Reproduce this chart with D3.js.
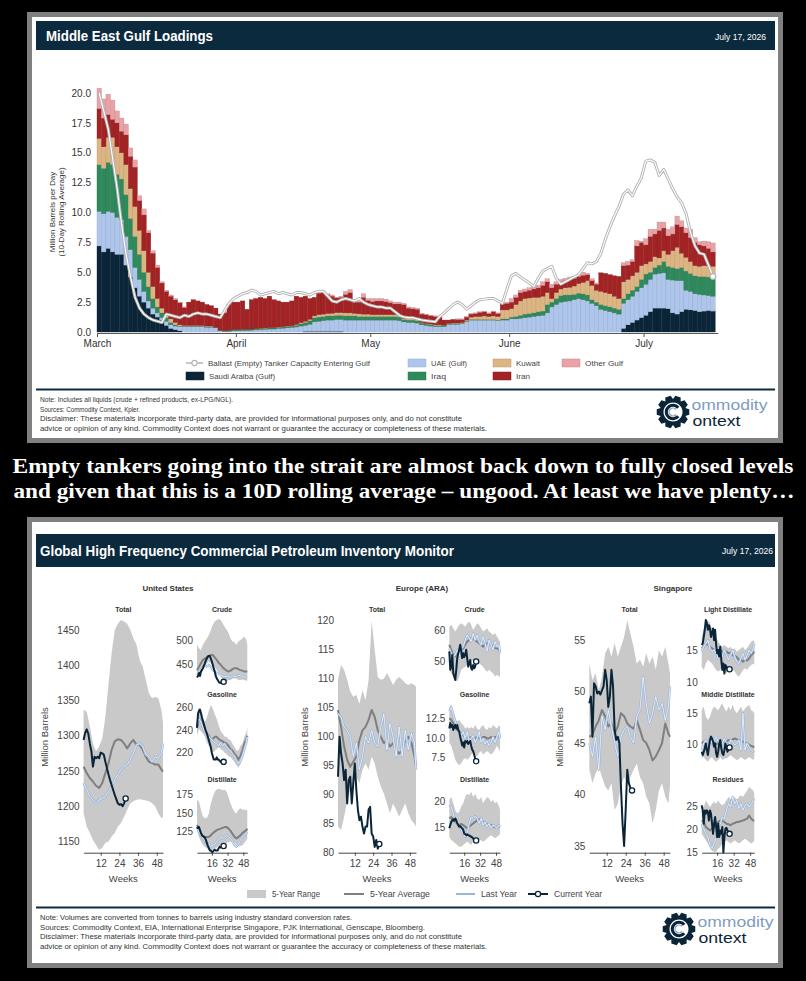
<!DOCTYPE html>
<html>
<head>
<meta charset="utf-8">
<script src="https://cdn.jsdelivr.net/npm/d3@7/dist/d3.min.js"></script>
<style>
  body { margin: 0; background: #000; }
  svg { display: block; }
</style>
</head>
<body>
<svg id="chart" width="806" height="981"></svg>
<script>
// ---------- Middle East Gulf loadings, daily from 1 March (mb/d, 10-day rolling avg)
const saudi = [7.2,6.7,7.0,6.7,6.5,6.5,5.6,4.6,3.7,3.0,
  2.5,2.0,1.5,1.25,1.0,0.55,0.3,0.2,0.1,0,
  0,0,0,0,0,0,0,0,0,0,
  0,0,0,0,0,0,0,0,0,0,
  0,0,0,0,0,0,0.05,0.05,0.05,0.05,
  0.05,0.05,0.05,0.05,0.05,0,0,0,0,0,
  0,0,0,0,0,0,0,0,0,0,
  0,0,0,0,0,0,0,0,0,0,
  0,0,0,0,0,0,0,0,0,0,
  0,0,0,0,0,0,0,0,0,0,
  0,0,0,0,0,0,0,0,0,0,
  0,0,0,0,0,0,0,0.3,0.6,0.8,
  1.0,1.2,1.4,1.7,2.0,2.0,2.0,1.95,1.6,1.5,
  1.7,1.9,1.85,1.8,1.7,1.75,1.8,1.75];
const uae = [2.9,3.2,3.1,3.3,3.1,2.9,2.4,2.3,1.7,1.4,
  0.9,0.6,0.5,0.35,0.2,0.35,0.3,0.3,0.35,0.45,
  0.45,0.45,0.45,0.45,0.4,0.4,0.35,0.1,0.05,0.05,
  0.1,0.1,0.12,0.12,0.15,0.18,0.2,0.22,0.25,0.25,
  0.3,0.32,0.35,0.38,0.42,0.5,0.5,0.6,0.8,0.85,
  0.9,0.95,0.95,1.0,1.0,1.0,1.0,1.0,1.0,1.0,
  1.0,1.0,1.0,1.0,1.0,1.0,1.0,0.95,0.85,0.8,
  0.8,0.75,0.6,0.55,0.5,0.45,0.45,0.45,0.65,0.65,
  0.65,0.7,0.85,1.0,1.0,1.0,1.0,1.0,1.0,0.95,
  1.0,1.0,1.1,1.1,1.15,1.2,1.25,1.3,1.35,1.4,
  1.6,2.1,2.3,2.5,2.55,2.6,2.7,2.8,2.7,2.6,
  2.4,2.2,1.9,1.8,1.7,1.6,1.5,2.1,2.1,2.2,
  2.4,2.5,2.6,2.7,2.85,2.9,2.95,2.45,2.75,2.8,
  2.6,1.6,1.55,1.4,1.45,1.35,1.25,1.25];
const iraq = [3.9,3.8,4.1,4.0,3.6,3.4,3.5,2.6,2.6,2.1,
  1.6,1.2,0.8,0.5,0.4,0.3,0.2,0.1,0.05,0.05,
  0.05,0.05,0.05,0.05,0.05,0.05,0.05,0.05,0.05,0.1,
  0.1,0.1,0.1,0.1,0.1,0.1,0.1,0.1,0.1,0.1,
  0.1,0.1,0.12,0.12,0.15,0.2,0.25,0.3,0.35,0.35,
  0.35,0.35,0.35,0.35,0.35,0.35,0.35,0.35,0.3,0.3,
  0.3,0.3,0.3,0.3,0.3,0.3,0.3,0.3,0.2,0.2,
  0.2,0.2,0.15,0.12,0.12,0.1,0.1,0.08,0.05,0.05,
  0.05,0.05,0.05,0.05,0.05,0.05,0.05,0.05,0.05,0.05,
  0.1,0.1,0.15,0.2,0.25,0.3,0.3,0.3,0.35,0.35,
  0.7,0.4,0.5,0.55,0.55,0.5,0.45,0.45,0.5,0.5,
  0.3,0.3,0.4,0.4,0.4,0.4,0.4,0.4,0.5,0.5,
  0.4,0.7,0.85,0.6,0.55,0.7,0.95,1.1,1.05,1.0,
  1.1,1.6,1.5,1.5,1.5,1.55,1.55,1.6];
const kuwait = [2.2,1.8,2.1,2.3,2.3,2.2,2.5,2.5,2.5,2.0,
  1.8,1.2,1.0,0.7,0.4,0.3,0.3,0.2,0.1,0.05,
  0.05,0.05,0.05,0.05,0.05,0.05,0,0,0,0,
  0,0,0,0,0,0,0.02,0.02,0.02,0.02,
  0.02,0.03,0.03,0.03,0.05,0.08,0.1,0.12,0.15,0.2,
  0.2,0.2,0.22,0.22,0.22,0.25,0.25,0.22,0.22,0.2,
  0.2,0.15,0.15,0.15,0.15,0.15,0.15,0.15,0.1,0.1,
  0.1,0.1,0.05,0.05,0.05,0.05,0.05,0.03,0.03,0.05,
  0.05,0.05,0.1,0.2,0.25,0.25,0.3,0.25,0.3,0.3,
  0.75,0.75,0.7,1.0,1.2,1.3,1.3,1.3,1.2,1.25,
  1.0,0.3,0.5,0.55,0.6,0.65,0.7,0.8,0.95,1.2,
  1.2,1.0,1.1,1.1,1.1,1.0,0.9,1.4,1.2,1.2,
  1.2,1.15,0.85,0.9,0.9,0.6,0.9,1.0,1.4,1.8,
  1.2,1.15,1.0,0.85,0.85,0.9,0.95,0.9];
const iran = [2.5,2.4,1.9,1.5,2.0,1.8,2.5,2.7,3.3,2.5,
  3.0,3.3,2.8,2.6,2.1,1.9,1.9,1.9,1.85,1.5,
  1.95,2.15,2.05,1.95,1.8,1.7,1.6,1.35,1.5,2.15,
  2.3,2.3,2.38,1.68,2.45,2.52,2.58,2.46,2.63,2.33,
  2.18,2.05,2.0,2.07,2.38,2.12,2.1,1.73,1.55,1.8,
  1.8,1.55,1.43,1.23,1.28,1.55,1.7,0.93,0.98,1.4,
  1.15,1.1,1.15,1.15,1.1,1.0,0.9,0.95,1.15,0.9,
  0.85,0.85,0.7,0.73,0.68,0.7,0.65,0.44,0.27,0.3,
  0.3,0.25,0.25,0.25,0.25,0.35,0.35,0.25,0.35,0.25,
  0.5,0.55,0.55,0.6,0.7,0.6,0.65,0.7,0.8,0.9,
  0.9,0.9,0.7,0.6,0.6,0.65,0.65,0.6,0.6,0.5,
  0.4,0.5,1.55,1.6,1.6,1.7,1.85,1.35,1.2,1.2,
  2.2,1.95,1.6,2.1,1.9,2.3,1.9,1.55,1.4,1.9,
  2.2,2.05,2.0,1.95,1.8,1.65,1.45,1.2];
const otherGulf = [1.7,1.6,1.7,1.6,1.0,1.1,0.9,0.7,0.6,0.4,
  0.5,0.2,0.2,0.2,0.1,0.1,0.1,0.1,0.05,0.05,
  0,0,0,0,0,0,0,0,0,0,
  0,0,0,0,0,0,0,0,0,0,
  0,0,0,0,0,0,0,0,0,0.05,
  0.1,0.1,0.1,0.05,0.1,0.25,0.25,0.1,0.1,0.3,
  0.15,0.25,0.2,0.2,0.2,0.15,0.15,0.15,0.1,0.1,
  0.1,0.1,0.05,0.05,0.05,0.05,0.05,0,0,0,
  0.05,0.05,0.05,0.05,0.05,0.05,0.05,0.05,0.05,0.05,
  0.05,0.1,0.3,0.2,0.2,0.2,0.2,0.2,0.2,0.3,
  0.25,0.3,0.2,0.2,0.2,0.2,0.15,0.2,0.25,0.1,
  0.15,0.1,0,0,0,0,0,0.25,0.3,0.15,
  0.45,0.1,0.5,0.6,0.4,0.7,0.5,0.55,0.6,0.7,
  0.5,0.4,0.7,0.4,0.25,0.4,0.55,0.75];
const ballast = [20.0,18.5,17.0,14.5,12.0,9.0,6.5,4.6,2.9,2.0,
  1.5,1.2,1.0,0.9,0.8,1.5,1.4,1.3,1.2,1.4,
  1.3,1.5,1.6,1.5,1.5,1.4,1.3,1.2,1.8,2.4,
  2.8,3.0,3.2,3.3,3.5,3.4,3.1,3.2,3.3,3.4,
  3.2,3.3,3.2,3.1,3.3,3.3,3.2,3.1,3.3,3.4,
  3.4,3.0,2.6,2.5,2.7,2.8,2.7,2.6,2.8,2.5,
  2.3,2.2,2.1,2.1,2.0,2.0,1.7,1.4,1.25,1.2,
  1.2,1.1,1.0,0.95,0.9,0.85,1.3,1.6,1.95,2.3,
  2.5,2.3,1.9,2.2,2.5,2.7,2.75,2.8,2.8,2.6,
  2.4,3.6,4.7,4.9,4.6,4.35,4.1,3.8,4.5,5.1,
  5.3,5.5,4.5,4.0,4.2,4.4,4.6,4.8,5.3,5.8,
  5.7,5.9,6.6,7.8,8.8,9.7,10.5,11.5,11.9,11.4,
  12.2,12.9,14.3,14.4,14.2,13.1,13.6,12.8,12.0,11.3,
  10.8,9.9,8.3,7.2,6.6,6.5,5.6,4.65];
const gulfKeys = ["saudi", "uae", "iraq", "kuwait", "iran", "other"];
const gulfColors = ["#0b2538", "#aec6ec", "#2e8a5c", "#dcb583", "#a32325", "#e9a3a7"];
const yTicksTop = [0, 2.5, 5, 7.5, 10, 12.5, 15, 17.5, 20];
const monthTicks = ["2026-03-01", "2026-04-01", "2026-05-01", "2026-06-01", "2026-07-01"];

// ---------- Inventory monitor, weeks of year (5-yr range/avg/last year every 2nd week, current year weekly)
const WK = [1,3,5,7,9,11,13,15,17,19,21,23,25,27,29,31,33,35,37,39,41,43,45,47,49,51,52];
const WKC = [1,2,3,4,5,6,7,8,9,10,11,12,13,14,15,16,17,18,19,20,21,22,23,24,25,26,27,28];

const usTotHi = [1337,1334,1313,1289,1278,1285,1296,1327,1374,1417,1450,1459,1464,1462,1459,1450,1438,1429,1407,1398,1379,1360,1353,1355,1353,1336,1318];
const usTotLo = [1190,1171,1162,1152,1145,1138,1141,1148,1150,1157,1162,1171,1176,1185,1195,1204,1207,1209,1210,1209,1208,1207,1204,1200,1190,1183,1185];
const usTotAvg = [1256,1247,1240,1235,1229,1226,1233,1247,1261,1280,1292,1295,1294,1289,1282,1289,1294,1287,1287,1280,1270,1263,1261,1259,1259,1252,1249];
const usTotLy = [1233,1223,1214,1209,1204,1209,1211,1214,1221,1228,1237,1245,1252,1256,1259,1266,1275,1287,1289,1285,1273,1270,1263,1270,1268,1275,1289];
const usTotCy = [1294,1304,1309,1303,1289,1278,1256,1270,1268,1270,1268,1276,1275,1273,1263,1254,1245,1237,1230,1223,1216,1210,1204,1202,1203,1200,1204,1211];

const usCrHi = [490,483,479,490,497,503,510,520,531,538,541,543,541,534,527,521,514,503,497,495,490,497,500,503,507,500,490];
const usCrLo = [425,428,435,442,449,452,456,452,449,445,438,432,425,418,414,414,418,418,421,421,421,418,418,419,418,416,416];
const usCrAvg = [438,445,452,459,462,464,467,469,469,464,459,453,449,444,440,437,435,437,440,442,442,440,438,437,435,435,435];
const usCrLy = [428,432,438,445,449,445,449,445,438,435,432,430,428,426,425,425,426,423,426,426,425,428,426,426,425,423,423];
const usCrCy = [423,426,432,426,435,438,442,447,452,458,462,466,467,467,462,456,449,442,435,426,421,418,414,412,412,414,414,414];

const usGaHi = [254,260,257,251,247,251,257,262,259,254,250,244,239,237,234,234,232,231,228,225,222,222,226,228,234,238,242];
const usGaLo = [235,241,239,237,234,229,226,223,220,222,223,225,223,222,220,219,217,216,214,212,209,207,210,216,222,228,232];
const usGaAvg = [242,250,248,242,239,237,235,232,232,234,234,232,231,230,229,228,226,223,222,219,217,214,217,222,228,232,235];
const usGaLy = [244,250,247,242,238,237,234,232,231,229,228,226,229,226,228,225,223,222,219,217,213,210,213,217,223,229,234];
const usGaCy = [242,254,257,258,255,251,248,245,242,239,237,234,231,228,225,220,217,214,214,214,216,214,214,213,212,212,212,212];

const usDiHi = [167,165,154,145,143,143,149,162,171,178,181,182,181,180,181,178,171,162,156,151,149,154,156,154,154,154,153];
const usDiLo = [127,118,112,107,105,103,101,100,101,102,104,106,107,108,109,110,111,112,112,110,108,107,106,107,110,114,116];
const usDiAvg = [134,129,123,119,118,118,118,120,123,125,127,128,129,130,131,131,129,126,122,118,116,118,120,123,125,127,129];
const usDiLy = [131,125,120,116,113,110,108,107,107,108,112,114,118,116,118,120,118,116,112,107,105,108,114,118,120,123,125];
const usDiCy = [129,131,131,127,123,120,119,118,117,114,110,106,103,100,100,98,98,100,101,100,100,100,103,105,104,105,106,106];

const euTotHi = [109.8,112.4,111.5,109.8,107.8,106.9,107.2,105.7,108,106.3,109.8,120,115,110.3,109.8,110,111,110,108.9,109.8,110.3,109.8,109.2,108.9,109.2,108.9,108.6];
const euTotLo = [84.5,83.9,86.2,89,90.8,92,93.1,92,94.3,95.4,94.3,96.6,95.4,93.1,91.4,90.2,88.5,86.8,88.5,87.4,86.2,87.4,88.5,86.8,85.6,85,84.5];
const euTotAvg = [104.6,101.7,98.3,96,94.8,95.7,96.6,99.4,101.1,101.7,102.9,104.6,103.4,101.1,100,98.9,99.4,98.3,98.9,97.7,97.1,97.7,99.4,100,98.9,96.6,94.8];
const euTotLy = [104,103.4,101.7,101.1,100,96.6,98.9,94.3,96.6,100,98.9,101.1,98.9,98.3,101.7,104,97.7,102.3,100,96.6,101.7,96.6,101.1,97.7,100.6,98.9,94.3];
const euTotCy = [93.1,100,97.1,95.4,92.5,94.3,88.5,92.5,93.1,88.5,92,95.4,90.8,87.4,85.6,86.2,84.5,83.3,84.5,84.5,87.4,87.9,83.3,82.8,81,82.2,80.7,81.5];

const euCrHi = [61,61.6,60.5,59.5,60.5,61.6,62.1,61.6,61,62.1,62.6,61.6,60,61,62.1,61.6,60.5,59.5,60,60.5,59.5,59,58.4,59,57.9,56.8,56.3];
const euCrLo = [47.4,46.3,45.3,44.2,43.7,45.3,47.4,47.9,48.4,48.9,49.5,50,50.5,50.5,50,49.5,48.9,48.4,47.4,46.8,47.4,46.8,46.3,45.3,45.8,45.3,45.3];
const euCrAvg = [55.3,53.7,52.1,51.6,52.6,53.2,53.7,54.2,55.3,56.3,56.8,57.4,57.4,56.8,56.3,55.8,55.3,54.7,55.3,55.8,55.8,55.3,54.7,54.2,54.2,53.7,53.2];
const euCrLy = [54.2,52.6,51.6,52.1,53.7,51.6,54.2,54.7,56.8,58.4,57.4,56.3,58.9,56.8,58.4,56.3,55.3,57.9,55.8,53.2,56.8,55.3,53.7,56.3,54.7,55.3,52.6];
const euCrCy = [53.2,47.4,48.4,52.1,46.3,45.3,44.2,47.4,51.1,52.6,53.7,55.3,53.2,51.1,52.6,51.4,52.1,53.7,51.1,48.4,49.5,50.5,47.9,47.4,48.9,47.9,48.4,50];

const euGaHi = [13.9,14.3,13.4,12.5,12.1,12.3,11.9,11.65,11.2,11.4,11.2,11.4,11.2,11.65,11.2,11,11.4,11.65,11.2,11,11.4,11.2,11.65,11.4,11.2,11.65,11.4];
const euGaLo = [9.4,9,8.1,7.2,6.75,6.5,6.75,7.2,7.4,7.2,7.4,7.85,8.1,7.85,7.6,8.1,8.3,7.85,8.1,8.3,8.1,7.85,8.1,8.5,9,8.5,8.3];
const euGaAvg = [12.5,12.3,11.9,11.4,11,10.8,10.5,10.3,10.1,10,10.1,9.95,10.1,9.95,10.1,9.95,9.9,10.1,10.1,9.9,9.95,10.1,9.9,10.1,10.1,10.3,10.4];
const euGaLy = [13.4,13.9,13,12.1,11.4,10.8,10.3,10.8,9.9,10.8,9.6,9.9,10.3,9.4,9.9,10.8,9.4,9.9,9.2,9.6,9,9.4,10.1,9.4,10.1,10.8,9.9];
const euGaCy = [11.2,11.9,11.4,11.65,11,11.4,11.65,11.2,11.65,11,10.8,10.1,9.6,9,9.4,8.75,9.6,9.4,9.6,9.2,9.4,9.6,9,8.5,8.3,7.85,7.4,7];

const euDiHi = [20.2,20.8,19.6,18.3,17.7,18,19,19.6,20.8,21.4,21.1,21.75,20.8,21.4,20.5,20.2,20.8,19.6,20.2,20.8,20.5,19.9,20.2,19.6,19.9,19,18.3];
const euDiLo = [13.3,12.7,12.4,12.1,11.75,11.4,11.4,11.75,12.1,12.4,12.1,11.75,12.4,12.7,13,12.8,12.6,12.4,12.6,13,13.3,13.6,13.3,13,13.3,13.6,13.9];
const euDiAvg = [16.75,17,16.4,16.1,15.8,15.5,15.7,15.5,15.2,14.9,15.2,15.5,15.8,16.1,16.4,16.6,16.3,16.1,15.8,15.7,15.5,15.5,15.2,15.06,15.2,15.2,15.3];
const euDiLy = [19.25,18.9,17.7,16.4,15.8,15.2,14.6,13.9,13.3,13.9,15.8,17,16.75,17.2,16.75,15.8,16.75,15.5,16.1,15.2,15.8,14.9,15.5,15.2,14.9,15.5,15.2];
const euDiCy = [14.9,15.5,16.1,16.4,16.6,16.3,16.75,16.4,15.8,15.5,15.2,15.3,15.06,14.9,14.6,13.9,13.8,13.6,13.75,13.6,13.56,13.4,13.3,13.2,13,12.7,12.6,12.6];

const sgTotHi = [52.7,51.1,51.8,50.1,51.4,53.7,54.35,53.4,54.7,53.4,54.35,55.3,56.9,55.6,54.35,52.7,53.1,52.4,53.7,52.7,53.4,52.1,54,53.4,54.35,52.7,51.8];
const sgTotLo = [42.4,41.1,42.05,42.7,41.7,40.8,40.4,41.1,38.5,39.1,40.8,41.7,41.1,41.7,42.4,43,41.7,41.1,39.8,39.1,37.2,38.5,40.4,41.1,39.8,39.1,40.8];
const sgTotAvg = [45.6,45.8,46.6,47.2,48.2,47.6,46.6,46.9,45.9,46.6,47.9,47.6,46.9,46.6,46.4,47.2,46.3,45.3,45,44.3,43.3,43.7,44.3,45,46.9,45.9,45.6];
const sgTotLy = [45,43.7,45.6,42.4,47.6,46.3,48.2,46.6,45,43.7,45.6,46.3,46.6,45.6,45,47.6,48.2,51.4,48.85,46.9,47.9,49.5,48.2,48.85,47.2,48.5,50.5];
const sgTotCy = [48.85,49.5,45.6,50.8,50.5,49.8,50,49.7,50.1,50.5,52.1,51.1,48.5,49.5,52.1,50.5,46.3,45.3,45.6,45,40.8,37.2,35,38.5,42.4,41.1,40.6,40.4];

const sgLdHi = [17,18.3,19.1,19.6,19.1,18.3,17.55,17,16.3,15.8,15.5,15.8,15.5,15.25,15.5,15,15.25,14.75,15,15.25,15.5,15,15.25,15.8,16.3,16.5,16.3];
const sgLdLo = [12.45,11.95,12.95,13.5,13.2,12.95,12.45,11.95,11.7,11.95,12.2,11.95,11.4,11.95,12.2,11.95,11.7,11.2,10.9,11.4,11.95,12.2,11.95,12.45,12.7,12.95,12.7];
const sgLdAvg = [15.25,15.5,16,15.8,15.5,15.25,15,14.75,14.75,15,14.75,14.5,14.75,14.5,14.6,14.2,14.1,13.9,13.5,13.6,13.2,13.5,13.4,13.7,14.2,14.5,14.75];
const sgLdLy = [14.75,15.5,16,16.5,15.25,14.75,15,14.5,13.7,14.75,14,15,14.2,13.5,14.2,15,14,13.2,12.95,13.7,14.5,13.5,14.2,15,14.5,15.25,16];
const sgLdCy = [15.8,16,17,18.1,19.6,19.1,18.1,18.8,18.3,17,17.55,18.3,16.5,18.1,15.8,14.5,15,14,15.5,13.5,11.95,12.95,11.4,12.7,12.45,11.95,12.05,12.05];

const sgMdHi = [15.5,16.1,14.5,13.9,14.5,15.5,16.1,15.8,15.5,16.1,16.6,15.8,15.3,16.1,15.5,16.4,15.5,15,15.5,16.1,15.3,15.8,16.1,16.4,15.5,15.3,15];
const sgMdLo = [7.65,7.9,7.4,7.1,7.65,7.9,7.4,7.1,7.4,7.9,7.4,7.65,7.65,7.9,8.2,7.9,7.65,7.4,7.5,7.9,7.65,7.4,7.65,7.9,7.65,7.4,7.65];
const sgMdAvg = [10.1,10.4,10.1,9.85,10.2,10.4,10.2,10,10.1,10.2,10.4,10.5,10.4,10.65,10.5,10.75,10.9,10.75,10.65,10.5,10.4,10.2,10.1,9.85,9.7,9.55,9.45];
const sgMdLy = [9,10.1,10.65,9,10.9,10.1,10.65,11.2,10.4,9.55,10.1,10.9,10.1,9.55,10.65,10.4,9.85,10.1,10.65,9,15,9,10.1,9.55,9,8.75,8.6];
const sgMdCy = [8.75,8.2,8.75,9.3,10.1,9,8.2,9.55,10.65,11.2,10.9,10.4,9.55,10.1,8.5,7.9,8.75,10.1,10.65,9.3,8.5,8.2,9,10.1,9.3,8.75,9.1,9.45];

const sgReHi = [25.65,24.9,26.4,25.65,24.9,25.65,26,25.65,26.4,25.65,25.3,25.65,26.4,27.1,26.75,26.4,27.1,26.4,27.1,27.5,27.1,27.8,28.55,29.3,28.9,28.55,27.8];
const sgReLo = [19.1,18.4,17.7,17,16.2,15.5,15.15,15.15,15.9,16.2,17,17.3,17.7,17.3,17,17.3,17.7,17.3,17,17.3,17.7,18.05,17.7,17.3,17,17.3,17.7];
const sgReAvg = [22,21.7,20.6,20.2,19.85,20.2,20.6,21.3,21.7,22,21.9,21.7,21.3,21.2,20.95,21.3,21.45,21.7,21.7,21.9,22,22.2,22.4,23.1,22.4,22,22];
const sgReLy = [21.3,20.2,19.1,18.4,16.6,15.9,17,18.4,20.6,21.3,22.75,22.4,24.2,25.65,24.9,27.1,25.65,26.4,24.6,25.65,24.2,25.3,25.65,24.9,25.65,26.4,26.75];
const sgReCy = [25.3,24.2,21.3,24.2,23.5,24.2,23.85,22,24.2,23.5,21.3,19.1,21.3,22.75,20.6,18.4,21.3,18.4,19.85,19.1,20.6,15,18.4,20.2,20.4,19.85,19.3,19.1];

// ---------- drawing
const svg = d3.select("#chart");
const NARROW = "'Liberation Sans Narrow','Arial Narrow','Liberation Sans',Arial,sans-serif";
const SANS = "'Liberation Sans',Arial,Helvetica,sans-serif";
const SERIF = "'Liberation Serif','Times New Roman',serif";
const HEAD = "#0c2a3e";
const INK = "#0b2538";

function txt(g, x, y, s, o = {}) {
  const t = g.append("text").attr("x", x).attr("y", y).text(s)
    .attr("font-family", o.family || NARROW)
    .attr("font-size", o.size || 8)
    .attr("fill", o.fill || "#333")
    .attr("text-anchor", o.anchor || "start");
  if (o.weight) t.attr("font-weight", o.weight);
  if (o.len) t.attr("textLength", o.len).attr("lengthAdjust", "spacingAndGlyphs");
  return t;
}

function frame(y0, h) {
  svg.append("rect").attr("x", 29.5).attr("y", y0 + 2.5).attr("width", 751).attr("height", h - 5)
    .attr("fill", "#fff").attr("stroke", "#808080").attr("stroke-width", 5);
}

function logo(cx, cy) {
  const g = svg.append("g").attr("transform", `translate(${cx},${cy})`);
  const n = 10, rO = 16.5, rR = 13, s = 2 * Math.PI / n;
  const pts = [];
  for (let i = 0; i < n; i++) {
    const a = i * s;
    [[rR, a - 0.5 * s], [rO, a - 0.27 * s], [rO, a + 0.27 * s], [rR, a + 0.5 * s]]
      .forEach(([r, t]) => pts.push([r * Math.cos(t), r * Math.sin(t)]));
  }
  const hole = d3.range(0, 361, 10).map(t => [9.5 * Math.cos(t * Math.PI / 180), 9.5 * Math.sin(t * Math.PI / 180)]);
  g.append("path").attr("fill", INK).attr("fill-rule", "evenodd")
    .attr("d", "M" + pts.join("L") + "Z M" + hole.join("L") + "Z");
  g.append("path").attr("fill", INK)
    .attr("d", d3.arc()({innerRadius: 5.2, outerRadius: 8.3, startAngle: Math.PI * 0.72, endAngle: Math.PI * 2.28}));
  g.append("path").attr("fill", "#8aa4c8")
    .attr("d", d3.arc()({innerRadius: 3.2, outerRadius: 4.6, startAngle: Math.PI * 0.72, endAngle: Math.PI * 2.28}));
  txt(svg, cx + 18.5, cy - 2.5, "ommodity", {size: 15, fill: "#7f9cc4", len: 76});
  txt(svg, cx + 19.5, cy + 14, "ontext", {size: 15, fill: INK, len: 48});
}

// ===== Panel 1: Middle East Gulf Loadings
frame(12, 431);
svg.append("rect").attr("x", 36).attr("y", 21).attr("width", 739).attr("height", 29).attr("fill", HEAD);
txt(svg, 46, 41, "Middle East Gulf Loadings", {size: 14, weight: "bold", fill: "#fff", len: 167});
txt(svg, 766, 40, "July 17, 2026", {size: 9, fill: "#fff", anchor: "end", len: 51});

const start = new Date(Date.UTC(2026, 2, 1));
const end = new Date(Date.UTC(2026, 6, 17));
const rows = saudi.map((v, i) => ({
  date: d3.utcDay.offset(start, i),
  saudi: v, uae: uae[i], iraq: iraq[i], kuwait: kuwait[i], iran: iran[i], other: otherGulf[i]
}));
const xT = d3.scaleUtc().domain([start, end]).range([97, 97 + 138 * 4.48]);
const yT = d3.scaleLinear().domain([0, 20]).range([332, 93]);
const stack = d3.stack().keys(gulfKeys)(rows);
const bw = xT(d3.utcDay.offset(start, 1)) - xT(start);

const bars = svg.append("g");
stack.forEach((layer, k) => {
  bars.append("g").attr("fill", gulfColors[k])
    .attr("stroke", d3.color(gulfColors[k]).darker(0.5)).attr("stroke-width", 0.35)
    .selectAll("rect").data(layer).join("rect")
    .attr("x", d => xT(d.data.date))
    .attr("width", bw)
    .attr("y", d => yT(d[1]))
    .attr("height", d => Math.max(0, yT(d[0]) - yT(d[1])));
});

const bl = d3.line().x((d, i) => xT(rows[i].date) + bw / 2).y(d => yT(d));
svg.append("path").attr("d", bl(ballast)).attr("fill", "none").attr("stroke", "#b4b4b4").attr("stroke-width", 3).attr("stroke-linejoin", "round");
svg.append("path").attr("d", bl(ballast)).attr("fill", "none").attr("stroke", "#fff").attr("stroke-width", 1.1).attr("stroke-linejoin", "round");
svg.append("circle").attr("cx", xT(rows[rows.length - 1].date) + bw / 2).attr("cy", yT(ballast[ballast.length - 1]))
  .attr("r", 2.8).attr("fill", "#fff").attr("stroke", "#b4b4b4").attr("stroke-width", 1.2);

const xAxT = svg.append("g").attr("transform", "translate(0,333)")
  .call(d3.axisBottom(xT).tickValues(monthTicks.map(s => new Date(s + "T00:00:00Z")))
    .tickFormat(d3.utcFormat("%B")).tickSize(4).tickSizeOuter(0).tickPadding(3));
xAxT.select(".domain").attr("stroke", "#555").attr("d", `M97,0.5H${xT(end) + 3}`);
xAxT.selectAll("line").attr("stroke", "#555");
xAxT.selectAll("text").attr("font-family", SANS).attr("font-size", 10).attr("fill", "#333");

const yAxT = svg.append("g").attr("transform", "translate(94,0)")
  .call(d3.axisLeft(yT).tickValues(yTicksTop).tickFormat(d3.format(".1f")).tickSize(0).tickPadding(3));
yAxT.select(".domain").remove();
yAxT.selectAll("text").attr("font-family", SANS).attr("font-size", 10).attr("fill", "#333");

const yl = svg.append("g").attr("transform", "translate(0,212) rotate(-90)");
txt(yl, 0, 55, "Million Barrels per Day", {size: 8, anchor: "middle", family: SANS});
txt(yl, 0, 64, "(10-Day Rolling Average)", {size: 8, anchor: "middle", family: SANS});

// legend
const lg = svg.append("g");
lg.append("line").attr("x1", 186).attr("x2", 203).attr("y1", 363).attr("y2", 363).attr("stroke", "#b4b4b4").attr("stroke-width", 1.5);
lg.append("circle").attr("cx", 194.5).attr("cy", 363).attr("r", 2.6).attr("fill", "#fff").attr("stroke", "#b4b4b4").attr("stroke-width", 1.1);
txt(lg, 208, 366, "Ballast (Empty) Tanker Capacity Entering Gulf", {size: 8, fill: "#444", len: 162});
const legItems = [
  [186, 376, 0, "Saudi Araiba (Gulf)", 66],
  [408, 363, 1, "UAE (Gulf)", 36],
  [408, 376, 2, "Iraq", 15],
  [493, 363, 3, "Kuwait", 24],
  [493, 376, 4, "Iran", 14],
  [562, 363, 5, "Other Gulf", 38]
];
legItems.forEach(([x, y, k, label, w]) => {
  lg.append("rect").attr("x", x).attr("y", y - 4).attr("width", 18).attr("height", 8)
    .attr("fill", gulfColors[k]).attr("stroke", d3.color(gulfColors[k]).darker(0.4)).attr("stroke-width", 0.5);
  txt(lg, x + 23, y + 3, label, {size: 8, fill: "#444", len: w});
});

svg.append("rect").attr("x", 36).attr("y", 388.5).attr("width", 739).attr("height", 2).attr("fill", HEAD);
const notes1 = [
  ["Note: Includes all liquids (crude + refined products, ex-LPG/NGL).", 193],
  ["Sources: Commodity Context, Kpler.", 100],
  ["Disclaimer: These materials incorporate third-party data, are provided for informational purposes only, and do not constitute", 422],
  ["advice or opinion of any kind. Commodity Context does not warrant or guarantee the accuracy or completeness of these materials.", 447]
];
notes1.forEach(([s, w], i) => txt(svg, 40, 402 + i * 9.5, s, {size: 7.3, fill: "#333", len: w}));
logo(673, 412);

// ===== caption
txt(svg, 403, 473, "Empty tankers going into the strait are almost back down to fully closed levels",
  {family: SERIF, size: 22, weight: "bold", fill: "#fff", anchor: "middle", len: 781});
txt(svg, 404, 498, "and given that this is a 10D rolling average \u2013 ungood. At least we have plenty\u2026",
  {family: SERIF, size: 22, weight: "bold", fill: "#fff", anchor: "middle", len: 781});

// ===== Panel 2: inventory monitor
frame(517, 451);
svg.append("rect").attr("x", 36).attr("y", 534).attr("width", 739).attr("height", 33).attr("fill", HEAD);
txt(svg, 40, 556, "Global High Frequency Commercial Petroleum Inventory Monitor", {size: 14, weight: "bold", fill: "#fff", len: 414});
txt(svg, 773, 554, "July 17, 2026", {size: 9, fill: "#fff", anchor: "end", len: 51});

const RANGE = "#c9c9c9", AVG = "#7f7f7f", LY = "#9bb6da";

function panel(p) {
  const g = svg.append("g");
  const x = d3.scaleLinear().domain([1, 52]).range([p.x0, p.x1]);
  const y = d3.scaleLinear().domain(p.dom).range([p.yb, p.yt]);
  const band = p.lo.map((v, i) => [WK[i], v, p.hi[i]]);
  g.append("path").attr("fill", RANGE)
    .attr("d", d3.area().x(d => x(d[0])).y0(d => y(d[1])).y1(d => y(d[2]))(band));
  const ln = d3.line().x(d => x(d[0])).y(d => y(d[1]));
  const pts = arr => arr.map((v, i) => [WK[i], v]);
  g.append("path").attr("d", ln(pts(p.avg))).attr("fill", "none").attr("stroke", AVG).attr("stroke-width", 2).attr("stroke-linejoin", "round");
  g.append("path").attr("d", ln(pts(p.ly))).attr("fill", "none").attr("stroke", LY).attr("stroke-width", 2.3).attr("stroke-linejoin", "round");
  g.append("path").attr("d", ln(pts(p.ly))).attr("fill", "none").attr("stroke", "#fff").attr("stroke-width", 0.7).attr("stroke-linejoin", "round");
  const cur = p.cy.map((v, i) => [WKC[i], v]);
  g.append("path").attr("d", ln(cur)).attr("fill", "none").attr("stroke", INK).attr("stroke-width", 2).attr("stroke-linejoin", "round");
  const last = cur[cur.length - 1];
  g.append("circle").attr("cx", x(last[0])).attr("cy", y(last[1])).attr("r", 2.6)
    .attr("fill", "#fff").attr("stroke", INK).attr("stroke-width", 1.3);

  const ya = g.append("g").attr("transform", `translate(${p.x0},0)`)
    .call(d3.axisLeft(y).tickValues(p.ticks).tickFormat(p.fmt || d3.format("d")).tickSize(0).tickPadding(4));
  ya.select(".domain").remove();
  ya.selectAll("text").attr("font-family", SANS).attr("font-size", 10).attr("fill", "#444");

  txt(g, (p.x0 + p.x1) / 2, p.ty, p.title, {size: 7, weight: "bold", anchor: "middle", family: SANS});

  if (p.xt) {
    const xa = g.append("g").attr("transform", `translate(0,${p.yb})`)
      .call(d3.axisBottom(x).tickValues(p.xt).tickSize(3).tickSizeOuter(0).tickPadding(4));
    xa.select(".domain").attr("stroke", "#444");
    xa.selectAll("line").attr("stroke", "#444");
    xa.selectAll("text").attr("font-family", SANS).attr("font-size", 10).attr("fill", "#444");
    txt(g, (p.x0 + p.x1) / 2, p.yb + 29, "Weeks", {size: 9.5, anchor: "middle", fill: "#444", family: SANS});
  }
}

const regions = [
  {name: "United States", cx: 168, tx: 83.6, tx1: 163, sx: 197, sx1: 247.3, ylx: 48},
  {name: "Europe (ARA)", cx: 422, tx: 338, tx1: 416, sx: 449.3, sx1: 500, ylx: 308},
  {name: "Singapore", cx: 673, tx: 589.3, tx1: 670, sx: 701.7, sx1: 754.3, ylx: 563}
];
regions.forEach(r => {
  txt(svg, r.cx, 591, r.name, {size: 8, weight: "bold", anchor: "middle", family: SANS});
  const g = svg.append("g").attr("transform", `translate(${r.ylx},737) rotate(-90)`);
  txt(g, 0, 0, "Million Barrels", {size: 9.5, anchor: "middle", fill: "#444", family: SANS});
});
const f1 = d3.format(".1f");
const R = regions;
const panels = [
  {x0: R[0].tx, x1: R[0].tx1, yb: 852.7, yt: 618, dom: [1134, 1467], ticks: [1150,1200,1250,1300,1350,1400,1450], title: "Total", ty: 612,
   lo: usTotLo, hi: usTotHi, avg: usTotAvg, ly: usTotLy, cy: usTotCy, xt: [12,24,36,48]},
  {x0: R[0].sx, x1: R[0].sx1, yb: 683.3, yt: 618, dom: [411, 545], ticks: [450, 500], title: "Crude", ty: 612,
   lo: usCrLo, hi: usCrHi, avg: usCrAvg, ly: usCrLy, cy: usCrCy},
  {x0: R[0].sx, x1: R[0].sx1, yb: 768, yt: 703, dom: [206.6, 263.8], ticks: [220, 240, 260], title: "Gasoline", ty: 697,
   lo: usGaLo, hi: usGaHi, avg: usGaAvg, ly: usGaLy, cy: usGaCy},
  {x0: R[0].sx, x1: R[0].sx1, yb: 852.7, yt: 788, dom: [97, 183], ticks: [125, 150, 175], title: "Distillate", ty: 782,
   lo: usDiLo, hi: usDiHi, avg: usDiAvg, ly: usDiLy, cy: usDiCy, xt: [16,32,48]},

  {x0: R[1].tx, x1: R[1].tx1, yb: 852.7, yt: 620.7, dom: [80, 120], ticks: [80,85,90,95,100,105,110,115,120], title: "Total", ty: 612,
   lo: euTotLo, hi: euTotHi, avg: euTotAvg, ly: euTotLy, cy: euTotCy, xt: [12,24,36,48]},
  {x0: R[1].sx, x1: R[1].sx1, yb: 685, yt: 620.7, dom: [42.6, 62.9], ticks: [50, 60], title: "Crude", ty: 612,
   lo: euCrLo, hi: euCrHi, avg: euCrAvg, ly: euCrLy, cy: euCrCy},
  {x0: R[1].sx, x1: R[1].sx1, yb: 766.7, yt: 702.7, dom: [6.3, 14.5], ticks: [7.5, 10, 12.5], fmt: f1, title: "Gasoline", ty: 697,
   lo: euGaLo, hi: euGaHi, avg: euGaAvg, ly: euGaLy, cy: euGaCy},
  {x0: R[1].sx, x1: R[1].sx1, yb: 852.7, yt: 790.2, dom: [10.3, 22.06], ticks: [15, 20], title: "Distillate", ty: 782,
   lo: euDiLo, hi: euDiHi, avg: euDiAvg, ly: euDiLy, cy: euDiCy, xt: [16,32,48]},

  {x0: R[2].tx, x1: R[2].tx1, yb: 852.7, yt: 620, dom: [34.35, 56.94], ticks: [35,40,45,50,55], title: "Total", ty: 612,
   lo: sgTotLo, hi: sgTotHi, avg: sgTotAvg, ly: sgTotLy, cy: sgTotCy, xt: [12,24,36,48]},
  {x0: R[2].sx, x1: R[2].sx1, yb: 683, yt: 618.3, dom: [9.95, 19.85], ticks: [10, 15], title: "Light Distillate", ty: 612,
   lo: sgLdLo, hi: sgLdHi, avg: sgLdAvg, ly: sgLdLy, cy: sgLdCy},
  {x0: R[2].sx, x1: R[2].sx1, yb: 765, yt: 703.3, dom: [6.58, 16.63], ticks: [10, 15], title: "Middle Distillate", ty: 697,
   lo: sgMdLo, hi: sgMdHi, avg: sgMdAvg, ly: sgMdLy, cy: sgMdCy},
  {x0: R[2].sx, x1: R[2].sx1, yb: 852.7, yt: 786.7, dom: [15, 29.35], ticks: [15, 20, 25], title: "Residues", ty: 782,
   lo: sgReLo, hi: sgReHi, avg: sgReAvg, ly: sgReLy, cy: sgReCy, xt: [16,32,48]}
];
panels.forEach(panel);

// legend
const lg2 = svg.append("g");
lg2.append("rect").attr("x", 247).attr("y", 890).attr("width", 19).attr("height", 8).attr("fill", RANGE);
txt(lg2, 272, 897, "5-Year Range", {size: 9, fill: "#444", len: 48});
lg2.append("line").attr("x1", 344).attr("x2", 364).attr("y1", 894).attr("y2", 894).attr("stroke", AVG).attr("stroke-width", 2);
txt(lg2, 370, 897, "5-Year Average", {size: 9, fill: "#444", len: 60});
lg2.append("line").attr("x1", 456).attr("x2", 475).attr("y1", 894).attr("y2", 894).attr("stroke", LY).attr("stroke-width", 2);
txt(lg2, 481, 897, "Last Year", {size: 9, fill: "#444", len: 36});
lg2.append("line").attr("x1", 528).attr("x2", 548).attr("y1", 894).attr("y2", 894).attr("stroke", INK).attr("stroke-width", 2);
lg2.append("circle").attr("cx", 538).attr("cy", 894).attr("r", 2.6).attr("fill", "#fff").attr("stroke", INK).attr("stroke-width", 1.3);
txt(lg2, 554, 897, "Current Year", {size: 9, fill: "#444", len: 48});

svg.append("rect").attr("x", 36).attr("y", 906.5).attr("width", 739).attr("height", 2).attr("fill", HEAD);
const notes2 = [
  ["Note: Volumes are converted from tonnes to barrels using industry standard conversion rates.", 312],
  ["Sources: Commodity Context, EIA, International Enterprise Singapore, PJK International, Genscape, Bloomberg.", 385],
  ["Disclaimer: These materials incorporate third-party data, are provided for informational purposes only, and do not constitute", 422],
  ["advice or opinion of any kind. Commodity Context does not warrant or guarantee the accuracy or completeness of these materials.", 447]
];
notes2.forEach(([s, w], i) => txt(svg, 40, 920 + i * 9.5, s, {size: 7.3, fill: "#333", len: w}));
logo(679, 929);
</script>
</body>
</html>
